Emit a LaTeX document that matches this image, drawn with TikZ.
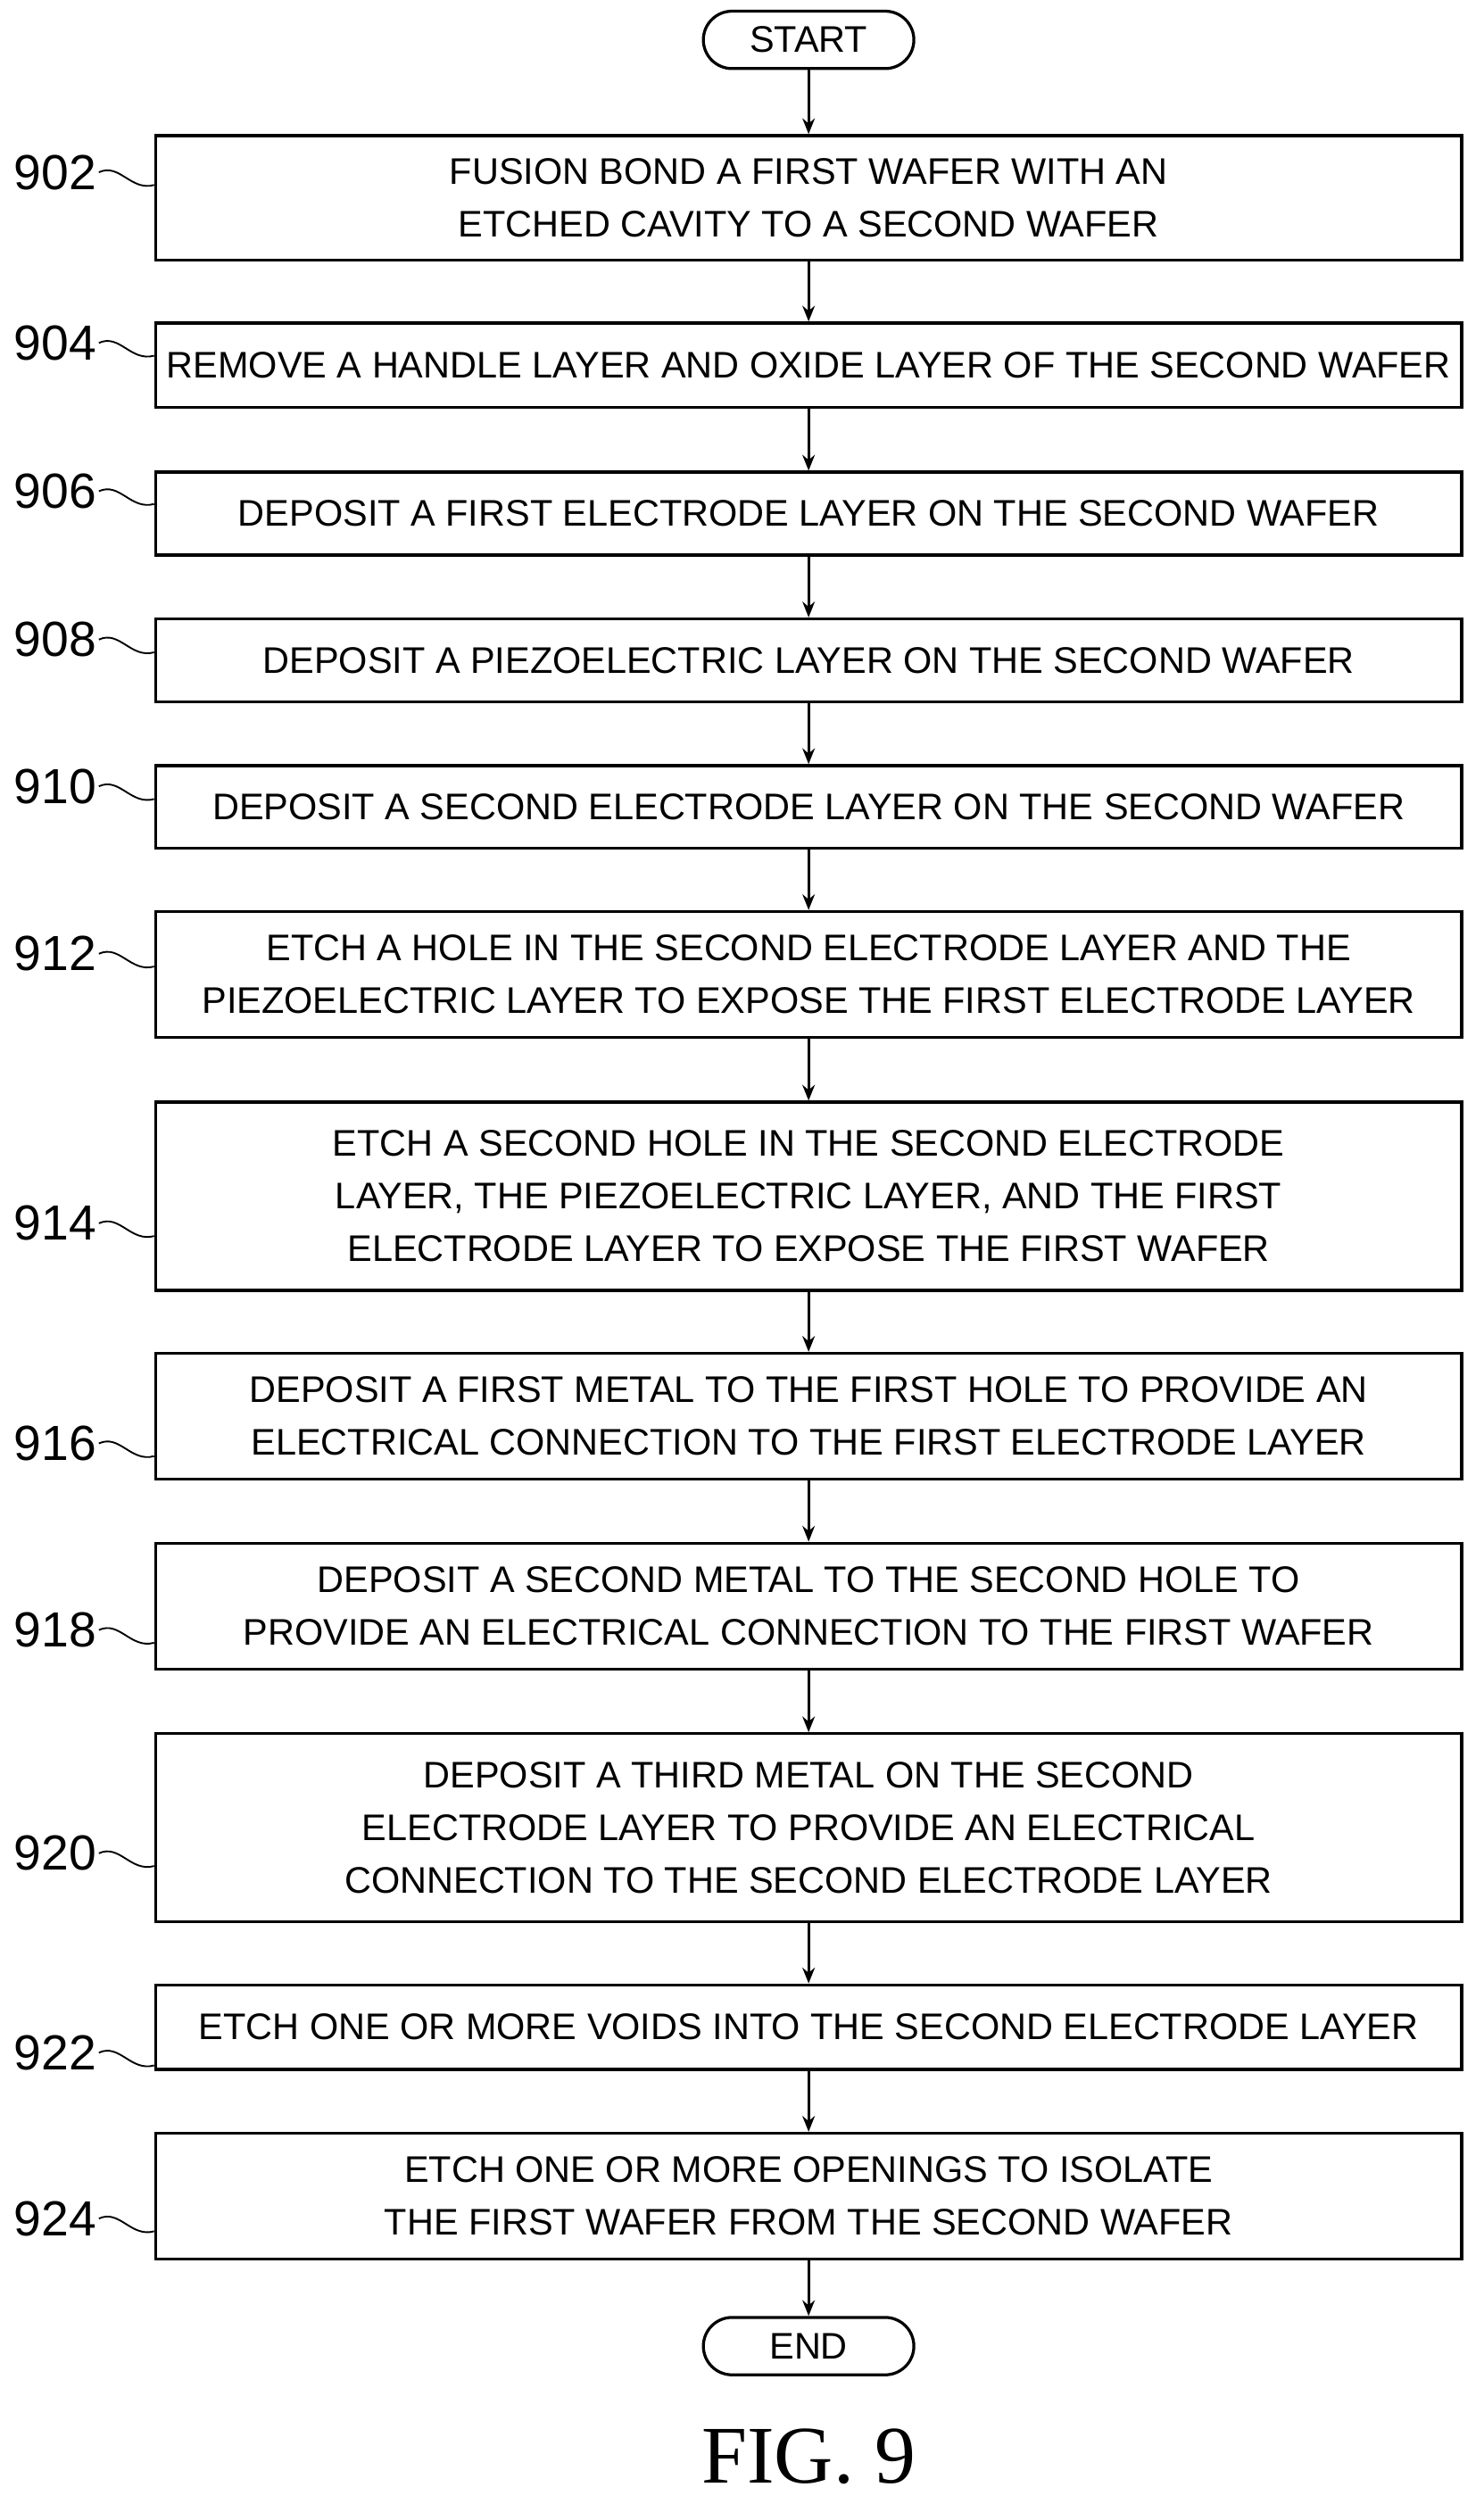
\documentclass[tikz,border=0pt]{standalone}
\usepackage{fontspec}
\setmainfont{Liberation Sans}
\newfontfamily\figfont{Liberation Serif}
\usetikzlibrary{positioning,arrows.meta}

\begin{document}
\begin{tikzpicture}[x=0.05cm,y=-0.05cm,->,>={Stealth[length=14pt,width=11pt]},line width=2.6pt,
  stepbox/.style={rectangle, draw, minimum width=40.95cm, align=center, font=\fontsize{33}{47}\selectfont, inner sep=0pt},
  lbl/.style={font=\fontsize{44}{50}\selectfont, anchor=east, inner sep=1pt}]
  \useasboundingbox (0,0) rectangle (930,1570);
                    \node [rectangle, draw, minimum width=6.6cm, minimum height=1.8cm, rounded corners=0.9cm, font=\fontsize{33}{40}\selectfont](st) at (507,25){START};
                    \node [stepbox, minimum height=3.9cm](s902) at (507,124){FUSION BOND A FIRST WAFER WITH AN\\ETCHED CAVITY TO A SECOND WAFER};
                    \node [stepbox, minimum height=2.65cm](s904) at (507,229){REMOVE A HANDLE LAYER AND OXIDE LAYER OF THE SECOND WAFER};
                    \node [stepbox, minimum height=2.6cm](s906) at (507,322){DEPOSIT A FIRST ELECTRODE LAYER ON THE SECOND WAFER};
                    \node [stepbox, minimum height=2.6cm](s908) at (507,414){DEPOSIT A PIEZOELECTRIC LAYER ON THE SECOND WAFER};
                    \node [stepbox, minimum height=2.6cm](s910) at (507,506){DEPOSIT A SECOND ELECTRODE LAYER ON THE SECOND WAFER};
                    \node [stepbox, minimum height=3.95cm](s912) at (507,611){ETCH A HOLE IN THE SECOND ELECTRODE LAYER AND THE\\PIEZOELECTRIC LAYER TO EXPOSE THE FIRST ELECTRODE LAYER};
                    \node [stepbox, minimum height=5.9cm](s914) at (507,750){ETCH A SECOND HOLE IN THE SECOND ELECTRODE\\LAYER, THE PIEZOELECTRIC LAYER, AND THE FIRST\\ELECTRODE LAYER TO EXPOSE THE FIRST WAFER};
                    \node [stepbox, minimum height=3.95cm](s916) at (507,888){DEPOSIT A FIRST METAL TO THE FIRST HOLE TO PROVIDE AN\\ELECTRICAL CONNECTION TO THE FIRST ELECTRODE LAYER};
                    \node [stepbox, minimum height=3.95cm](s918) at (507,1007){DEPOSIT A SECOND METAL TO THE SECOND HOLE TO\\PROVIDE AN ELECTRICAL CONNECTION TO THE FIRST WAFER};
                    \node [stepbox, minimum height=5.9cm](s920) at (507,1146){DEPOSIT A THIRD METAL ON THE SECOND\\ELECTRODE LAYER TO PROVIDE AN ELECTRICAL\\CONNECTION TO THE SECOND ELECTRODE LAYER};
                    \node [stepbox, minimum height=2.65cm](s922) at (507,1271){ETCH ONE OR MORE VOIDS INTO THE SECOND ELECTRODE LAYER};
                    \node [stepbox, minimum height=3.95cm](s924) at (507,1377){ETCH ONE OR MORE OPENINGS TO ISOLATE\\THE FIRST WAFER FROM THE SECOND WAFER};
                    \node [rectangle, draw, minimum width=6.6cm, minimum height=1.8cm, rounded corners=0.9cm, font=\fontsize{33}{40}\selectfont](en) at (507,1471){END};

                    \node [font=\figfont\fontsize{73}{76}\selectfont](fig) at (507,1540){FIG. 9};

                    % step numbers with leader curves
                    \foreach \n/\y in {902/108,904/215,906/308,908/401,910/493,912/598,914/767,916/905,918/1022,920/1162,922/1287,924/1391}{
                        \node [lbl](l\n) at (62,\y){\n};
                        \draw [-, line width=1.5pt] (l\n.east) .. controls (75,\y-6) and (82,\y+12) .. (s\n.west |- 0,\y+8);
                    }

                    \path
                        (st) edge (s902)
                        (s902) edge (s904)
                        (s904) edge (s906)
                        (s906) edge (s908)
                        (s908) edge (s910)
                        (s910) edge (s912)
                        (s912) edge (s914)
                        (s914) edge (s916)
                        (s916) edge (s918)
                        (s918) edge (s920)
                        (s920) edge (s922)
                        (s922) edge (s924)
                        (s924) edge (en)
                    ;
\end{tikzpicture}
\end{document}
